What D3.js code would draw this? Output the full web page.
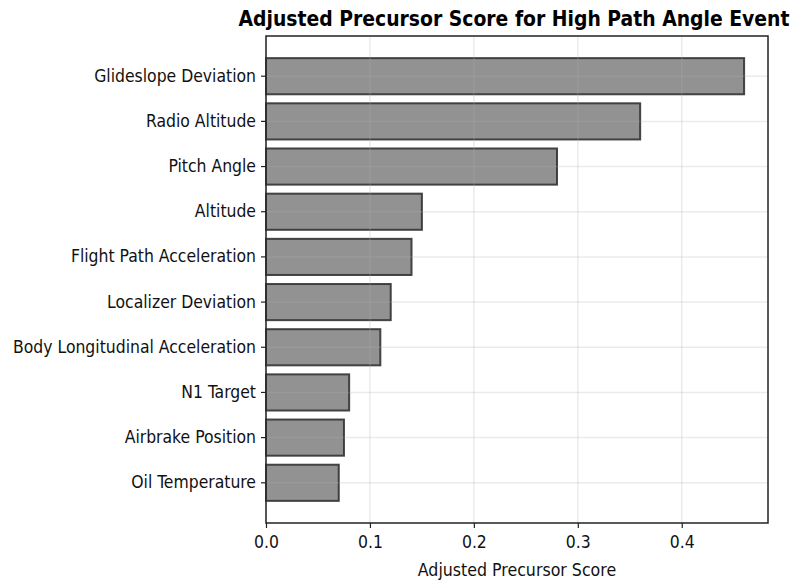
<!DOCTYPE html>
<html><head><meta charset="utf-8">
<script src="https://cdn.jsdelivr.net/npm/d3@7"></script>
<style>body{margin:0;background:#fff}svg{display:block}text{font-family:"DejaVu Sans Condensed","DejaVu Sans",sans-serif}</style>
</head><body><svg id="c" width="800" height="583"></svg>
<script>
const categories = ["Glideslope Deviation","Radio Altitude","Pitch Angle ","Altitude","Flight Path Acceleration","Localizer Deviation","Body Longitudinal Acceleration","N1 Target","Airbrake Position","Oil Temperature"];
const scores = [0.46,0.36,0.28,0.15,0.14,0.12,0.11,0.08,0.075,0.07];
const xTicks = [0.0,0.1,0.2,0.3,0.4];
const titleText = "Adjusted Precursor Score for High Path Angle Event";
const xLabel = "Adjusted Precursor Score";

const svg = d3.select("#c");
const L=266,R=768,T=36,B=523;
const x = d3.scaleLinear().domain([0,0.483]).range([L,R]);
const y = d3.scaleBand().domain(categories).range([T,B]).paddingInner(0.2).paddingOuter(0.49);

// bars
svg.append("g").selectAll("rect").data(categories).join("rect")
  .attr("x",x(0)).attr("y",d=>y(d)).attr("width",(d,i)=>x(scores[i])-x(0)).attr("height",y.bandwidth())
  .attr("fill","#7f7f7f").attr("fill-opacity",0.85).attr("stroke","#333").attr("stroke-opacity",0.9).attr("stroke-width",2);

// grid
const g = svg.append("g");
g.selectAll(".gx").data(xTicks).join("line").attr("x1",d=>x(d)).attr("x2",d=>x(d)).attr("y1",T).attr("y2",B)
  .attr("stroke","#b0b0b0").attr("stroke-opacity",0.25).attr("stroke-width",1.5);
g.selectAll(".gy").data(categories).join("line").attr("y1",d=>y(d)+y.bandwidth()/2).attr("y2",d=>y(d)+y.bandwidth()/2).attr("x1",L).attr("x2",R)
  .attr("stroke","#b0b0b0").attr("stroke-opacity",0.25).attr("stroke-width",1.5);

// axes
const xa = svg.append("g").attr("transform",`translate(0,${B})`).call(d3.axisBottom(x).tickValues(xTicks).tickFormat(d3.format(".1f")).tickSize(5).tickPadding(5));
const ya = svg.append("g").attr("transform",`translate(${L},0)`).call(d3.axisLeft(y).tickSize(5).tickPadding(5));
[xa,ya].forEach(a=>{a.select(".domain").remove();a.selectAll("line").attr("stroke","#222").attr("stroke-width",1.2);a.selectAll("text").attr("font-size",17.4).attr("fill","#111").attr("font-family",'"DejaVu Sans Condensed","DejaVu Sans",sans-serif');});
xa.selectAll("text").attr("dy","0.85em");

svg.append("rect").attr("x",L).attr("y",T).attr("width",R-L).attr("height",B-T).attr("fill","none").attr("stroke","#222").attr("stroke-width",1.5);

svg.append("text").attr("x",(L+R)/2).attr("y",576).attr("text-anchor","middle").attr("font-size",17.6).attr("fill","#111").text(xLabel);
svg.append("text").attr("x",(L+R)/2-3).attr("y",26).attr("text-anchor","middle").attr("font-size",20.9).attr("font-weight","bold").attr("fill","#000").text(titleText);
</script></body></html>
